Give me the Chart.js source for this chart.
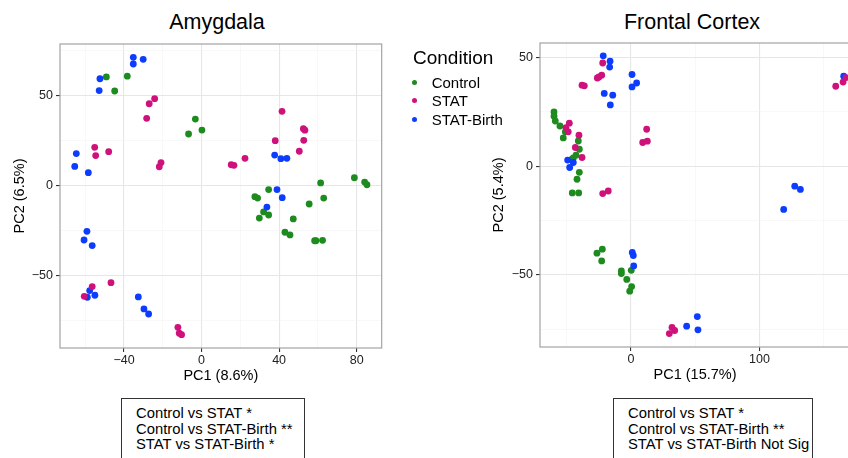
<!DOCTYPE html>
<html>
<head>
<meta charset="utf-8">
<script src="https://cdn.jsdelivr.net/npm/chart.js@4.4.0/dist/chart.umd.min.js"></script>
<style>
    body { margin: 0; width: 848px; height: 458px; overflow: hidden; background: #fff; position: relative;
           font-family: "Liberation Sans", Arial, sans-serif; color: #000; }
    canvas { position: absolute; }
    .titulo { position: absolute; top: 10px; font-size: 21.5px; line-height: 24.7px; text-align: center; }
    .leyenda-titulo { position: absolute; left: 413px; top: 47px; font-size: 19px; line-height: 21.85px; }
    .leyenda-item { position: absolute; left: 0; width: 520px; height: 17.25px; font-size: 15px; line-height: 17.25px; }
    .leyenda-item .punto { position: absolute; left: 411.8px; top: 5.9px; width: 5px; height: 5px; border-radius: 50%; }
    .leyenda-item .texto { position: absolute; left: 431.7px; top: 0; white-space: nowrap; }
    .caja { position: absolute; top: 398px; height: 80px; box-sizing: border-box; border: 1px solid #333;
            padding: 7px 0 0 14px; font-size: 14.8px; line-height: 15.5px; white-space: nowrap; }
</style>
</head>
<body>

<div class="titulo" style="left:0; width:434px;">Amygdala</div>
<div class="titulo" style="left:542px; width:300px;">Frontal Cortex</div>

<canvas id="amygdalaChart" width="400" height="386" style="left:0; top:0;"></canvas>
<canvas id="frontalChart" width="390" height="386" style="left:480px; top:-1px;"></canvas>

<div class="leyenda-titulo">Condition</div>
<div id="leyenda"></div>

<div class="caja" id="cajaAmygdala" style="left:121px; width:184px;"></div>
<div class="caja" id="cajaFrontal" style="left:613px; width:200px;"></div>

<script>
// condiciones y colores
const condiciones = ['Control', 'STAT', 'STAT-Birth'];
const colores = ['#1e8b1e', '#cf117b', '#0c3cfd'];

// Amygdala - PC1 / PC2
const amygControlX = [-49.1, -44.8, -38.3, -6.7, -3.2, 0.2, 34.6, 61.4, 78.8, 84.1, 85.3, 63.0, 27.5, 28.9, 32.0, 29.8, 34.6, 47.3, 55.5, 43.0, 45.6, 58.3, 59.0, 62.4];
const amygControlY = [60.2, 52.4, 60.6, 28.5, 36.8, 30.7, -2.4, 1.3, 4.2, 1.8, 0.3, -7.1, -6.3, -7.1, -14.8, -18.2, -16.5, -18.7, -10.4, -26.1, -27.6, -30.8, -30.8, -30.6];
const amygStatX = [-27.0, -24.2, -28.3, -55.1, -54.6, -47.9, -20.9, -21.8, 41.5, 52.5, 53.3, 52.7, 38.0, 50.4, 22.4, 15.3, 16.7, -56.4, -60.5, -46.7, -12.2, -11.5, -10.3];
const amygStatY = [45.3, 48.1, 37.2, 21.1, 16.5, 18.7, 12.6, 10.3, 41.1, 31.4, 30.6, 25.0, 24.8, 18.9, 15.0, 11.4, 11.1, -56.3, -61.7, -54.1, -78.9, -82.2, -83.0];
const amygBirthX = [-35.2, -35.2, -30.1, -52.4, -52.8, -64.6, -65.4, -58.4, 37.7, 40.9, 44.0, 38.9, 41.6, 33.7, -59.1, -60.6, -56.4, -57.7, -58.9, -55.0, -32.6, -29.7, -27.3];
const amygBirthY = [71.1, 67.4, 70.0, 59.2, 52.6, 17.6, 10.5, 7.0, 16.8, 14.8, 15.0, -2.4, -6.9, -12.1, -25.6, -30.4, -33.5, -58.5, -62.2, -61.1, -62.0, -68.7, -71.5];

// Frontal Cortex - PC1 / PC2
const frontControlX = [-59.9, -59.9, -58.9, -55.3, -51.1, -52.7, -41.0, -40.2, -42.8, -44.9, -45.9, -40.2, -42.0, -45.7, -40.7, -22.3, -26.5, -22.8, -7.5, -7.5, 0.2, -3.3, 0.5, -1.0];
const frontControlY = [25.0, 23.0, 20.8, 18.5, 15.8, 13.0, 11.6, 7.8, 5.1, 3.8, 3.2, -2.8, -6.0, -12.3, -12.3, -38.2, -40.0, -43.6, -48.2, -49.4, -47.9, -52.1, -55.4, -57.5];
const frontStatX = [-22.0, -22.8, -24.9, -26.2, -38.1, -36.3, -48.0, -50.6, -48.8, -40.5, -43.3, -38.1, 12.2, 9.1, 12.7, -17.7, -22.0, 31.9, 34.0, 29.8, 167.3, 159.3, 165.0];
const frontStatY = [47.5, 41.9, 41.1, 40.6, 37.3, 37.0, 19.8, 17.8, 15.8, 14.3, 8.6, 4.0, 17.0, 10.9, 11.5, -11.4, -12.6, -74.2, -75.6, -77.0, 40.8, 36.8, 38.7];
const frontBirthX = [-21.6, -16.3, -16.6, 0.8, 4.4, 0.8, -20.8, -14.2, -16.1, -49.3, -44.9, -47.7, 1.0, 1.8, 2.1, 165.5, 127.4, 131.8, 118.8, 51.6, 43.3, 52.1];
const frontBirthY = [50.8, 48.3, 45.6, 42.2, 38.3, 36.5, 33.5, 32.7, 28.2, 2.8, 1.7, -0.6, -39.7, -41.1, -45.9, 41.4, -9.2, -10.7, -19.9, -69.2, -73.6, -75.3];

// ticks con etiqueta (los demas son lineas menores)
const amygXTicks = [-40, 0, 40, 80];
const amygYTicks = [-50, 0, 50];
const frontXTicks = [0, 100];
const frontYTicks = [-50, 0, 50];

// textos de las cajas
const amygTests = ['Control vs STAT *', 'Control vs STAT-Birth **', 'STAT vs STAT-Birth *'];
const frontTests = ['Control vs STAT *', 'Control vs STAT-Birth **', 'STAT vs STAT-Birth Not Sig'];

const fuente = '"Liberation Sans", Arial, sans-serif';


function toPoints(xs, ys) {
    return xs.map((x, i) => ({ x: x, y: ys[i] }));
}

// marco gris alrededor del panel
const marcoPanel = {
    id: 'marcoPanel',
    beforeDatasetsDraw(chart) {
        const a = chart.chartArea;
        const ctx = chart.ctx;
        ctx.save();
        ctx.strokeStyle = '#a3a3a3';
        ctx.lineWidth = 1.2;
        ctx.strokeRect(a.left, a.top, a.right - a.left, a.bottom - a.top);
        ctx.restore();
    }
};

function opcionesEje(horizontal, mayores, paso, min, max, titulo, tamFijo, padTitulo) {
    const esMayor = c => c.tick && mayores.includes(c.tick.value);
    return {
        type: 'linear',
        position: horizontal ? 'bottom' : 'left',
        min: min,
        max: max,
        afterFit: function (scale) {
            if (horizontal) scale.height = tamFijo; else scale.width = tamFijo;
        },
        border: { display: false },
        grid: {
            color: c => esMayor(c) ? '#e6e6e6' : '#f3f3f3',
            lineWidth: c => esMayor(c) ? 1.1 : 0.6,
            tickColor: c => esMayor(c) ? '#333333' : 'rgba(0,0,0,0)',
            tickWidth: 1.1,
            tickLength: 4
        },
        ticks: {
            stepSize: paso,
            includeBounds: false,
            autoSkip: false,
            maxRotation: 0,
            padding: horizontal ? 1 : 3,
            color: '#222',
            font: { family: fuente, size: 12.5 },
            callback: v => mayores.includes(v) ? String(v).replace('-', '\u2212') : ''
        },
        title: {
            display: true,
            text: titulo,
            color: '#000',
            font: { family: fuente, size: 14.5 },
            padding: horizontal ? { top: 0, bottom: 1 } : { top: padTitulo, bottom: 0 }
        }
    };
}

function crearPanel(canvasId, xs, ys, ejeX, ejeY, padDerecha) {
    const ctx = document.getElementById(canvasId).getContext('2d');
    // STAT arriba, Control abajo (el dataset 0 se dibuja al final)
    const orden = [1, 2, 0];
    const datasets = orden.map(i => ({
        label: condiciones[i],
        data: toPoints(xs[i], ys[i]),
        backgroundColor: colores[i],
        pointRadius: 3.4,
        pointHoverRadius: 3.4,
        pointBorderWidth: 0
    }));
    return new Chart(ctx, {
        type: 'scatter',
        data: { datasets: datasets },
        options: {
            responsive: false,
            animation: false,
            events: [],
            layout: { padding: { top: 44, right: padDerecha, bottom: 0, left: 0 } },
            plugins: {
                legend: { display: false },
                tooltip: { enabled: false }
            },
            scales: { x: ejeX, y: ejeY }
        },
        plugins: [marcoPanel]
    });
}

crearPanel('amygdalaChart',
    [amygControlX, amygStatX, amygBirthX],
    [amygControlY, amygStatY, amygBirthY],
    opcionesEje(true, amygXTicks, 20, -73, 92.9, 'PC1 (8.6%)', 38),
    opcionesEje(false, amygYTicks, 25, -90.4, 78.5, 'PC2 (6.5%)', 60, 11),
    18.3);

crearPanel('frontalChart',
    [frontControlX, frontStatX, frontBirthX],
    [frontControlY, frontStatY, frontBirthY],
    opcionesEje(true, frontXTicks, 50, -70.8, 170.4, 'PC1 (15.7%)', 38),
    opcionesEje(false, frontYTicks, 25, -83.2, 56.7, 'PC2 (5.4%)', 60, 10),
    20);

// leyenda
let leyendaHtml = ``;
const leyendaTop = [73.9, 92.3, 110.9];
condiciones.forEach(function (c, i) {
    leyendaHtml += `
    <div class="leyenda-item" style="top:${leyendaTop[i]}px">
        <span class="punto" style="background:${colores[i]}"></span>
        <span class="texto">${c}</span>
    </div>`;
});
document.getElementById('leyenda').innerHTML = leyendaHtml;

// cajas con las comparaciones
document.getElementById('cajaAmygdala').innerHTML = amygTests.map(t => `<div>${t}</div>`).join('');
document.getElementById('cajaFrontal').innerHTML = frontTests.map(t => `<div>${t}</div>`).join('');
</script>
</body>
</html>
